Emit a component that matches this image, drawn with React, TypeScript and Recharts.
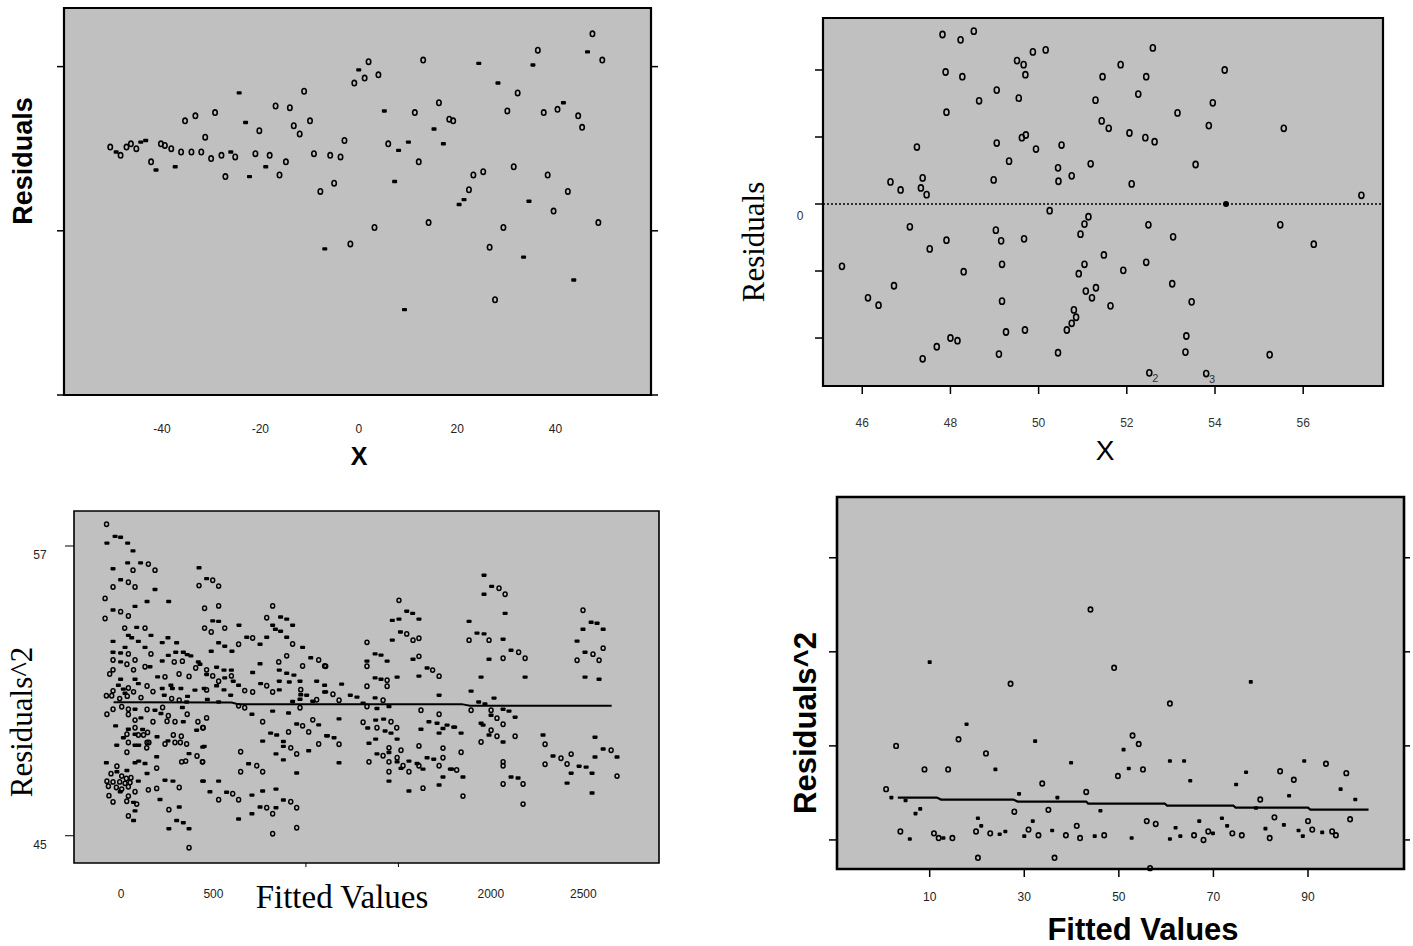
import React from 'react';
import { ScatterChart, Scatter, XAxis, YAxis, ReferenceArea, ReferenceLine } from 'recharts';

type Pt = [number, number];

const PAGE_W = 1413;
const PAGE_H = 946;
const SANS = '"Liberation Sans", Arial, sans-serif';
const SERIF = '"Liberation Serif", "Times New Roman", serif';
const PANEL_BG = '#c0c0c0';

// ---------- top left: Residuals vs X ----------
const tlXTicks = [-40, -20, 0, 20, 40];
const tlYTicks = [-1, 0, 1];
const tlOpen: Pt[] = [
  [-50.5, 0.51], [-48.4, 0.46], [-47.2, 0.51], [-46.3, 0.53], [-45.2, 0.5], [-42.2, 0.42], [-40.2, 0.53], [-39.4, 0.52],
  [-38.1, 0.5], [-36.1, 0.48], [-35.3, 0.67], [-34.0, 0.48], [-33.2, 0.7], [-32.0, 0.48], [-31.2, 0.57], [-30.0, 0.44],
  [-29.2, 0.72], [-27.9, 0.46], [-27.1, 0.33], [-25.1, 0.45], [-21.0, 0.47], [-20.2, 0.61], [-18.1, 0.46], [-16.9, 0.76],
  [-16.1, 0.34], [-14.8, 0.42], [-14.0, 0.75], [-13.2, 0.64], [-12.0, 0.59], [-11.1, 0.85], [-9.9, 0.67], [-9.1, 0.47],
  [-7.8, 0.24], [-5.8, 0.46], [-5.0, 0.29], [-3.7, 0.45], [-2.9, 0.55], [-1.7, -0.08], [-0.9, 0.9], [1.2, 0.93],
  [2.0, 1.03], [3.2, 0.02], [4.0, 0.95], [6.0, 0.53], [11.4, 0.72], [12.2, 0.42], [13.1, 1.04], [14.2, 0.05],
  [16.3, 0.78], [18.4, 0.68], [19.2, 0.67], [22.4, 0.25], [23.3, 0.34], [25.3, 0.36], [26.6, -0.1], [27.7, -0.42],
  [29.4, 0.02], [30.2, 0.73], [31.5, 0.39], [32.3, 0.84], [36.4, 1.1], [37.6, 0.72], [38.4, 0.34], [39.6, 0.12],
  [40.4, 0.74], [42.5, 0.24], [44.6, 0.7], [45.4, 0.63], [47.5, 1.2], [48.7, 0.05], [49.5, 1.04],
];
const tlFilled: Pt[] = [
  [-49.3, 0.48], [-44.3, 0.54], [-43.3, 0.55], [-41.2, 0.37], [-37.3, 0.39], [-26.0, 0.48], [-24.3, 0.84], [-23.0, 0.66],
  [-22.2, 0.33], [-18.9, 0.39], [-6.9, -0.11], [0.0, 0.98], [5.2, 0.73], [7.3, 0.3], [8.1, 0.49], [9.3, -0.48],
  [10.1, 0.54], [15.3, 0.62], [17.2, 0.53], [20.4, 0.16], [21.4, 0.19], [24.4, 1.02], [28.3, 0.9], [33.5, -0.16],
  [34.6, 0.18], [35.4, 1.01], [41.6, 0.78], [43.7, -0.3], [46.5, 1.09],
];

// ---------- top right: Residuals vs X ----------
const trXTicks = [46, 48, 50, 52, 54, 56];
const trYTicks = [-2, -1, 0, 1, 2];
const trOpen: Pt[] = [
  [47.82, 2.53], [48.23, 2.45], [48.53, 2.58], [47.89, 1.97], [48.27, 1.9], [47.91, 1.37], [48.65, 1.54], [49.05, 1.7],
  [49.55, 1.58], [49.51, 2.14], [49.66, 2.08], [49.7, 1.93], [49.87, 2.27], [50.16, 2.3], [52.59, 2.33], [51.86, 2.08],
  [51.45, 1.9], [52.44, 1.9], [54.22, 2.0], [51.29, 1.55], [52.26, 1.64], [53.95, 1.51], [53.15, 1.36], [51.43, 1.24],
  [51.59, 1.13], [53.86, 1.17], [55.56, 1.13], [47.24, 0.85], [49.05, 0.91], [49.62, 0.99], [49.71, 1.03], [49.94, 0.82],
  [50.52, 0.88], [52.06, 1.06], [52.42, 0.99], [52.63, 0.93], [49.33, 0.64], [50.44, 0.54], [51.18, 0.6], [53.56, 0.59],
  [46.64, 0.33], [46.87, 0.21], [47.37, 0.39], [47.33, 0.24], [47.46, 0.14], [48.98, 0.36], [50.45, 0.34], [50.75, 0.42],
  [52.11, 0.3], [57.32, 0.13], [50.25, -0.1], [51.13, -0.19], [51.04, -0.3], [47.08, -0.34], [49.03, -0.39], [47.91, -0.54],
  [49.15, -0.55], [49.67, -0.52], [50.95, -0.45], [52.49, -0.31], [53.05, -0.49], [55.48, -0.31], [56.24, -0.6], [47.53, -0.67],
  [51.48, -0.76], [45.54, -0.93], [48.3, -1.01], [49.17, -0.9], [51.04, -0.9], [50.91, -1.04], [51.92, -0.99], [52.44, -0.87],
  [46.72, -1.22], [53.03, -1.19], [46.13, -1.4], [46.37, -1.51], [49.17, -1.45], [51.07, -1.3], [51.21, -1.4], [51.3, -1.25],
  [51.63, -1.52], [53.47, -1.46], [50.8, -1.58], [50.85, -1.69], [50.75, -1.78], [50.64, -1.88], [49.26, -1.91], [49.69, -1.88],
  [48.0, -2.0], [48.16, -2.04], [47.69, -2.13], [47.37, -2.31], [49.1, -2.24], [50.44, -2.22], [53.35, -1.97], [53.33, -2.21],
  [55.24, -2.25],
];
const trFilled: Pt[] = [[54.25, 0.0]];
const trTaggedX = [52.51, 53.8];
const trTaggedY = [-2.52, -2.53];
const trTags = ['2', '3'];

// ---------- bottom left: Residuals^2 vs Fitted Values ----------
const blXTicks = [0, 500, 1000, 1500, 2000, 2500];
const blYTicks = [45, 57];
const blOpen: Pt[] = [
  [-78, 57.9], [148, 56.25], [65, 56.0], [184, 56.0], [40, 55.5], [-43, 55.3], [76, 55.3], [422, 55.36], [-86, 54.83],
  [-2, 54.28], [40, 54.1], [-86, 54.0], [20, 53.6], [130, 53.6], [40, 52.53], [162, 52.53], [-43, 52.28], [32, 52.1],
  [76, 52.28], [130, 52.0], [288, 52.2], [332, 52.23], [-43, 51.87], [-61, 51.7], [68, 51.87], [238, 51.58], [314, 51.7],
  [368, 51.6], [404, 51.95], [141, 51.2], [40, 51.12], [68, 50.96], [-43, 51.0], [-79, 50.8], [-50, 50.8], [173, 50.97],
  [-7, 50.68], [34, 50.78], [108, 50.72], [274, 50.68], [315, 50.61], [4, 50.34], [40, 50.24], [141, 50.23], [225, 50.31],
  [-76, 50.03], [-43, 50.24], [40, 50.02], [76, 49.79], [173, 49.72], [256, 49.97], [292, 49.72], [358, 50.03], [249, 49.74],
  [416, 49.72], [445, 49.47], [76, 49.47], [144, 49.28], [32, 49.2], [94, 49.17], [122, 49.17], [283, 49.17], [326, 49.12],
  [238, 48.8], [141, 48.86], [40, 48.86], [151, 48.86], [292, 48.86], [321, 48.86], [355, 48.8], [32, 48.46], [139, 48.64],
  [411, 48.3], [328, 48.06], [350, 48.09], [440, 48.06], [-22, 47.88], [193, 47.8], [-54, 47.57], [4, 47.47], [29, 47.37],
  [54, 47.4], [-76, 47.26], [-43, 47.23], [-7, 47.23], [22, 47.17], [49, 47.2], [-68, 47.05], [-25, 47.0], [4, 46.93],
  [76, 46.82], [40, 47.03], [148, 46.9], [193, 46.96], [315, 47.0], [-65, 46.66], [-43, 46.4], [40, 46.64], [31, 46.43],
  [85, 46.31], [259, 46.08], [40, 45.82], [368, 44.5],
  [496, 55.58], [528, 55.34], [452, 54.42], [528, 54.52], [452, 53.6], [488, 53.44], [561, 53.6], [636, 52.93], [712, 53.19],
  [820, 54.52], [788, 54.03], [928, 52.94], [463, 51.87], [496, 51.62], [597, 51.62], [528, 51.4], [463, 51.04], [669, 51.01],
  [712, 50.95], [788, 51.21], [820, 50.95], [853, 52.2], [896, 52.45], [982, 52.03], [1069, 52.28], [1101, 52.03], [972, 51.05],
  [968, 50.3], [1058, 50.63], [636, 50.38], [669, 50.3], [463, 49.88], [442, 49.47], [766, 49.72], [982, 49.55], [1015, 49.3],
  [1037, 49.8], [906, 49.3], [918, 48.64], [950, 48.39], [1069, 48.8], [647, 48.48], [442, 48.06], [734, 47.9], [766, 47.65],
  [647, 47.65], [604, 46.74], [528, 46.49], [636, 46.49], [788, 46.16], [820, 45.91], [918, 46.41], [950, 46.16], [950, 45.33],
  [820, 45.08],
  [1503, 54.75], [1545, 53.36], [1579, 53.1], [1611, 53.18], [1330, 53.01], [1330, 52.02], [1611, 52.43], [1685, 51.86],
  [1720, 51.61], [1439, 51.44], [1439, 51.19], [1330, 51.19], [1107, 52.02], [1146, 50.86], [1179, 50.61], [1417, 50.61],
  [1330, 50.35], [1622, 50.2], [1720, 50.03], [1309, 49.7], [1460, 49.72], [1384, 49.47], [1491, 49.47], [1179, 48.79],
  [1449, 48.64], [1514, 48.54], [1611, 48.72], [1741, 48.63], [1417, 48.31], [1493, 48.23], [1741, 48.23], [1341, 48.06],
  [1449, 48.06], [1525, 47.9], [1557, 47.65], [1611, 47.9], [1720, 47.9], [1449, 47.65], [1633, 46.97],
  [2044, 55.25], [2077, 55.0], [1882, 53.1], [1990, 53.1], [2150, 52.6], [2185, 52.35], [2066, 52.35], [1893, 50.2],
  [2001, 50.2], [2033, 49.87], [2001, 49.37], [2066, 49.62], [2033, 49.12], [2131, 49.12], [1947, 48.88], [1839, 48.46],
  [2293, 48.79], [2293, 47.96], [2066, 48.06], [2066, 47.9], [1815, 47.72], [2066, 47.14], [2174, 47.14], [1849, 46.64],
  [2174, 46.31],
  [2498, 54.34], [2552, 52.52], [2607, 52.77], [2466, 52.27], [2585, 52.27], [2650, 48.54], [2379, 48.21], [2434, 48.38],
  [2412, 47.97], [2682, 47.47],
];
const blFilled: Pt[] = [
  [-32, 57.4], [-2, 57.36], [-76, 57.12], [36, 57.12], [65, 56.8], [36, 56.3], [106, 56.3], [-43, 56.06], [-2, 55.6],
  [184, 55.2], [422, 56.1], [141, 54.7], [258, 54.7], [76, 54.5], [-43, 54.35], [85, 53.63], [40, 53.3], [58, 53.2],
  [94, 53.05], [-43, 53.05], [162, 53.3], [223, 53.0], [254, 53.2], [301, 52.99], [130, 52.8], [22, 52.8], [-43, 52.6],
  [-2, 52.57], [-2, 52.2], [157, 52.0], [223, 52.24], [256, 52.47], [296, 52.6], [337, 52.6], [358, 52.5], [378, 52.45],
  [418, 52.2], [-2, 51.48], [76, 51.48], [198, 51.58], [427, 52.1], [270, 51.23], [223, 51.1], [278, 51.1], [324, 51.1],
  [94, 51.3], [-14, 51.23], [13, 51.07], [22, 50.9], [234, 50.82], [360, 50.77], [400, 51.03], [355, 50.54], [450, 51.1],
  [76, 50.24], [184, 50.2], [332, 50.31], [108, 49.88], [216, 50.06], [337, 49.72], [409, 49.37], [-29, 49.55], [40, 49.41],
  [117, 49.4], [13, 49.06], [76, 49.2], [195, 49.1], [254, 48.93], [76, 48.75], [-23, 48.75], [96, 48.75], [193, 48.27],
  [368, 48.4], [450, 48.7], [-79, 48.02], [76, 48.02], [96, 48.09], [130, 47.99], [32, 47.7], [141, 47.58], [-22, 47.65],
  [94, 47.26], [238, 47.3], [281, 47.26], [445, 47.26], [-4, 46.82], [68, 46.38], [211, 46.5], [315, 46.19], [76, 46.03],
  [68, 45.63], [301, 45.63], [337, 45.54], [259, 45.29], [368, 45.29],
  [463, 55.65], [496, 53.9], [528, 53.88], [638, 53.72], [528, 52.99], [561, 52.85], [600, 52.64], [488, 52.64], [680, 53.22],
  [752, 52.93], [788, 53.22], [863, 54.06], [896, 53.97], [928, 53.72], [820, 53.72], [835, 53.55], [863, 53.47], [896, 53.22],
  [982, 52.8], [517, 51.98], [557, 51.86], [597, 51.86], [463, 51.68], [561, 51.54], [517, 51.21], [607, 51.4], [636, 51.23],
  [557, 51.04], [593, 50.82], [712, 51.76], [752, 52.12], [755, 51.3], [856, 51.86], [856, 51.4], [856, 51.04], [896, 51.73],
  [910, 51.37], [935, 51.65], [968, 51.4], [1026, 52.37], [1058, 51.4], [1101, 51.23], [1101, 50.95], [972, 50.84],
  [1004, 50.82], [928, 50.56], [968, 50.65], [1037, 50.57], [467, 50.64], [528, 50.54], [708, 50.03], [820, 50.16],
  [906, 50.08], [950, 49.63], [1069, 49.59], [809, 49.25], [842, 49.17], [766, 48.92], [878, 48.9], [878, 48.7],
  [1015, 48.52], [1112, 49.14], [442, 48.67], [838, 48.39], [878, 48.14], [690, 47.98], [950, 47.6], [442, 47.26],
  [528, 47.26], [481, 46.82], [571, 46.8], [708, 46.68], [766, 46.85], [838, 46.93], [752, 46.19], [838, 46.16],
  [878, 46.48], [708, 45.91], [636, 45.69],
  [1545, 54.3], [1577, 54.21], [1611, 53.97], [1503, 53.97], [1467, 53.92], [1511, 53.44], [1467, 53.1], [1374, 52.53],
  [1406, 52.48], [1439, 52.23], [1330, 52.23], [1579, 52.31], [1655, 51.95], [1611, 51.61], [1493, 51.57], [1374, 51.54],
  [1406, 51.48], [1193, 51.28], [1107, 50.96], [1240, 50.82], [1276, 50.74], [1374, 50.71], [1309, 50.49], [1384, 50.27],
  [1449, 50.35], [1720, 50.82], [1179, 49.84], [1377, 49.79], [1420, 49.83], [1334, 49.46], [1428, 49.34], [1460, 49.25],
  [1493, 49.0], [1377, 49.0], [1341, 48.83], [1622, 49.41], [1665, 49.72], [1709, 49.66], [1741, 49.44], [1763, 49.58],
  [1720, 49.25], [1799, 49.5], [1116, 49.14], [1152, 49.06], [1384, 48.39], [1449, 48.45], [1655, 48.23], [1691, 48.17],
  [1179, 48.02], [1493, 48.06], [1557, 48.09], [1601, 47.99], [1514, 47.79], [1633, 47.76], [1781, 47.76], [1741, 47.43],
  [1449, 47.26], [1720, 47.1], [1557, 46.85],
  [1963, 55.79], [2004, 55.33], [1963, 55.0], [2077, 54.21], [1882, 53.88], [1925, 53.39], [1963, 53.36], [2066, 53.14],
  [2109, 52.68], [1990, 52.31], [1947, 51.57], [2185, 51.57], [1893, 50.99], [2017, 50.7], [1934, 50.54], [1968, 50.46],
  [2066, 50.24], [2098, 50.16], [2001, 49.99], [2131, 49.91], [1804, 49.5], [1839, 49.25], [1947, 49.66], [1958, 49.58],
  [1990, 49.17], [2066, 48.88], [2282, 49.17], [2336, 48.3], [1788, 47.76], [1849, 47.43], [2109, 47.43], [2147, 47.39],
  [2542, 53.84], [2574, 53.8], [2498, 53.55], [2607, 53.55], [2466, 53.06], [2509, 52.6], [2509, 51.57], [2585, 51.48],
  [2563, 49.08], [2607, 48.59], [2682, 48.26], [2563, 48.26], [2477, 47.88], [2515, 47.84], [2547, 47.59], [2434, 47.59],
  [2412, 47.18], [2547, 46.77],
];
const blSmoothX = [-40, 598, 633, 1842, 1887, 2653];
const blSmoothY = [50.53, 50.52, 50.45, 50.45, 50.38, 50.38];

// ---------- bottom right: Residuals^2 vs Fitted Values ----------
const brXTicks = [10, 30, 50, 70, 90];
const brYTicks = [0, 1, 2, 3];
const brOpen: Pt[] = [
  [0.78, 0.54], [2.9, 1.0], [3.8, 0.09], [8.9, 0.75], [10.9, 0.07], [11.9, 0.02], [13.9, 0.75], [14.8, 0.02], [16.1, 1.07],
  [19.8, 0.09], [20.2, -0.19], [21.9, 0.92], [22.8, 0.07], [27.1, 1.66], [27.9, 0.3], [30.9, 0.11], [33.0, 0.05], [33.8, 0.6],
  [35.1, 0.32], [36.4, -0.19], [38.8, 0.05], [41.1, 0.15], [41.8, 0.02], [43.1, 0.51], [44.0, 2.45], [46.9, 0.05], [49.0, 1.83],
  [49.8, 0.68], [52.9, 1.11], [54.2, 1.02], [55.1, 0.75], [55.9, 0.2], [56.6, -0.3], [57.8, 0.17], [60.8, 1.45], [65.9, 0.05],
  [67.9, 0.0], [68.9, 0.09], [74.0, 0.07], [76.0, 0.05], [79.9, 0.43], [81.9, 0.02], [82.9, 0.24], [84.1, 0.73], [87.0, 0.64],
  [90.0, 0.2], [90.9, 0.11], [93.8, 0.81], [95.1, 0.09], [95.9, 0.05], [98.1, 0.71], [98.9, 0.22],
];
const brFilled: Pt[] = [
  [1.9, 0.45], [4.9, 0.42], [5.8, 0.01], [7.0, 0.28], [8.0, 0.33], [10.0, 1.89], [12.9, 0.02], [17.8, 1.23], [20.2, 0.23],
  [20.9, 0.15], [23.9, 0.75], [24.8, 0.06], [26.0, 0.09], [28.9, 0.49], [30.0, 0.04], [31.8, 0.2], [32.3, 1.05], [35.9, 0.1],
  [37.0, 0.45], [39.9, 0.82], [44.9, 0.04], [46.1, 0.31], [51.0, 0.96], [52.1, 0.76], [52.7, 0.02], [60.8, 0.84], [60.8, 0.01],
  [62.0, 0.13], [63.0, 0.04], [63.8, 0.84], [65.1, 0.63], [67.0, 0.2], [69.9, 0.07], [71.8, 0.23], [72.9, 0.15], [74.8, 0.59],
  [76.9, 0.72], [77.9, 1.68], [79.0, 0.34], [81.0, 0.12], [84.9, 0.16], [86.0, 0.47], [88.0, 0.1], [88.9, 0.04], [89.2, 0.84],
  [93.0, 0.08], [96.9, 0.54], [100.0, 0.43],
];
const brSmoothX = [3.26, 11.5, 12.4, 27.7, 28.6, 43.1, 43.5, 59.7, 60.2, 74.2, 74.7, 90.0, 90.5, 102.8];
const brSmoothY = [0.45, 0.45, 0.429, 0.429, 0.408, 0.408, 0.387, 0.387, 0.365, 0.365, 0.344, 0.344, 0.323, 0.323];

// ---------- helpers ----------
type Box = { x: number; y: number; w: number; h: number };

const toPts = (a: Pt[]) => a.map(([x, y]) => ({ x, y }));
const zipPts = (xs: number[], ys: number[]) => xs.map((x, i) => ({ x, y: ys[i] }));

// every axis is given 1px of room (a 0-sized axis is not drawn), so the margins leave it out
const marginFor = (b: Box, topAxis = false) => ({
  top: b.y - (topAxis ? 1 : 0),
  left: b.x - 1,
  right: PAGE_W - b.x - b.w,
  bottom: PAGE_H - b.y - b.h - 1,
});

const openDot = (rx: number, ry: number, sw: number) => (p: any) => (
  <ellipse cx={p.cx} cy={p.cy} rx={rx} ry={ry} fill="none" stroke="#000" strokeWidth={sw} />
);
const dash = (w: number, h: number) => (p: any) => (
  <rect x={p.cx - w / 2} y={p.cy - h / 2} width={w} height={h} rx={0.8} fill="#000" />
);
const noDot = () => <g />;

const Layer = ({ children }: { children: React.ReactNode }) => (
  <div style={{ position: 'absolute', left: 0, top: 0 }}>{children}</div>
);

const tickText = (dy: number, size = 12, color = '#222') => (p: any) => (
  <text x={p.x} y={p.y + dy} textAnchor="middle" dominantBaseline="central" fontFamily={SANS} fontSize={size} fill={color}>
    {p.payload.value}
  </text>
);

// y tick marks on both sides of the frame (no labels)
const sideTicks = (b: Box, inLen: number, outLen: number, sw: number) => (p: any) => (
  <g>
    <line x1={b.x - inLen} x2={b.x} y1={p.y} y2={p.y} stroke="#000" strokeWidth={sw} />
    <line x1={b.x + b.w} x2={b.x + b.w + outLen} y1={p.y} y2={p.y} stroke="#000" strokeWidth={sw} />
  </g>
);

// ---------- panels ----------
const TL_BOX: Box = { x: 64, y: 8, w: 587, h: 387 };
const TL_XDOM: [number, number] = [-59.9, 59.4];
const TL_YDOM: [number, number] = [-1.0, 1.357];

const TopLeft = () => (
  <Layer>
    <ScatterChart width={PAGE_W} height={PAGE_H} margin={marginFor(TL_BOX)}>
      <XAxis type="number" dataKey="x" domain={TL_XDOM} ticks={tlXTicks} interval={0} height={1}
        axisLine={false} tickLine={false} tickSize={0} tickMargin={0} tick={tickText(34)} />
      <YAxis type="number" dataKey="y" domain={TL_YDOM} ticks={tlYTicks} interval={0} width={1}
        axisLine={false} tickLine={false} tickSize={0} tickMargin={0} tick={sideTicks(TL_BOX, 7, 7, 1.5)} />
      <ReferenceArea x1={TL_XDOM[0]} x2={TL_XDOM[1]} y1={TL_YDOM[0]} y2={TL_YDOM[1]} ifOverflow="visible"
        fill={PANEL_BG} fillOpacity={1} stroke="#000" strokeWidth={2.2} />
      <Scatter data={toPts(tlOpen)} shape={openDot(2.2, 2.7, 1.6)} isAnimationActive={false} />
      <Scatter data={toPts(tlFilled)} shape={dash(5, 3.4)} isAnimationActive={false} />
    </ScatterChart>
  </Layer>
);

const TR_BOX: Box = { x: 823, y: 18, w: 560, h: 368 };
const TR_XDOM: [number, number] = [45.11, 57.81];
const TR_YDOM: [number, number] = [-2.716, 2.776];

const trYTick = (p: any) =>
  p.payload.value === 0 ? (
    <text x={p.x - 15} y={p.y + 12} textAnchor="middle" dominantBaseline="central" fontFamily={SANS} fontSize={12} fill="#333">
      0
    </text>
  ) : (
    <g />
  );

const TopRight = () => (
  <Layer>
    <ScatterChart width={PAGE_W} height={PAGE_H} margin={marginFor(TR_BOX)}>
      <XAxis type="number" dataKey="x" domain={TR_XDOM} ticks={trXTicks} interval={0} height={1}
        axisLine={false} tickSize={8} tickMargin={0} tickLine={{ stroke: '#000', strokeWidth: 1.5 }} tick={tickText(29, 12, '#333')} />
      <YAxis type="number" dataKey="y" domain={TR_YDOM} ticks={trYTicks} interval={0} width={1}
        axisLine={false} tickSize={8} tickMargin={0} tickLine={{ stroke: '#000', strokeWidth: 1.5 }} tick={trYTick} />
      <ReferenceArea x1={TR_XDOM[0]} x2={TR_XDOM[1]} y1={TR_YDOM[0]} y2={TR_YDOM[1]} ifOverflow="visible"
        fill={PANEL_BG} fillOpacity={1} stroke="#000" strokeWidth={2.2} />
      <ReferenceLine y={0} stroke="#000" strokeWidth={1.5} strokeDasharray="2 2" />
      <Scatter data={toPts(trOpen)} shape={openDot(2.5, 3.1, 1.6)} isAnimationActive={false} />
      <Scatter data={toPts(trFilled)} shape={(p: any) => <ellipse cx={p.cx} cy={p.cy} rx={3} ry={3} fill="#000" />} isAnimationActive={false} />
      <Scatter
        data={trTaggedX.map((x, i) => ({ x, y: trTaggedY[i], tag: trTags[i] }))}
        shape={(p: any) => (
          <g>
            <ellipse cx={p.cx} cy={p.cy} rx={2.5} ry={3.1} fill="none" stroke="#000" strokeWidth={1.6} />
            <text x={p.cx + 6} y={p.cy + 5} textAnchor="middle" dominantBaseline="central" fontFamily={SANS} fontSize={11} fill="#333">
              {p.payload?.tag}
            </text>
          </g>
        )}
        isAnimationActive={false}
      />
    </ScatterChart>
  </Layer>
);

const BL_BOX: Box = { x: 74, y: 511, w: 585, h: 352 };
const BL_XDOM: [number, number] = [-254, 2909];
const BL_YDOM: [number, number] = [43.87, 58.45];

const blXTick = (p: any) => {
  const v = p.payload.value;
  if (v === 1000 || v === 1500) {
    return <line x1={p.x} x2={p.x} y1={p.y} y2={p.y + 4} stroke="#000" strokeWidth={1} />;
  }
  return (
    <text x={p.x} y={p.y + 31} textAnchor="middle" dominantBaseline="central" fontFamily={SANS} fontSize={12} fill="#222">
      {v}
    </text>
  );
};
const blYTick = (p: any) => (
  <text x={p.x - 25} y={p.y + 9} textAnchor="middle" dominantBaseline="central" fontFamily={SANS} fontSize={12} fill="#222">
    {p.payload.value}
  </text>
);

const BottomLeft = () => (
  <Layer>
    <ScatterChart width={PAGE_W} height={PAGE_H} margin={marginFor(BL_BOX, true)}>
      <XAxis type="number" dataKey="x" domain={BL_XDOM} ticks={blXTicks} interval={0} height={1}
        axisLine={false} tickLine={false} tickSize={0} tickMargin={0} tick={blXTick} />
      <XAxis xAxisId="t" orientation="top" type="number" domain={BL_XDOM} allowDataOverflow ticks={blXTicks} interval={0}
        height={1} axisLine={false} tickSize={4} tickMargin={0} tick={false} tickLine={{ stroke: '#000', strokeWidth: 1 }} />
      <YAxis type="number" dataKey="y" domain={BL_YDOM} ticks={blYTicks} interval={0} width={1}
        axisLine={false} tickSize={9} tickMargin={0} tickLine={{ stroke: '#000', strokeWidth: 1 }} tick={blYTick} />
      <ReferenceArea x1={BL_XDOM[0]} x2={BL_XDOM[1]} y1={BL_YDOM[0]} y2={BL_YDOM[1]} ifOverflow="visible"
        fill={PANEL_BG} fillOpacity={1} stroke="#000" strokeWidth={1.6} />
      <Scatter data={toPts(blOpen)} shape={openDot(2.0, 2.2, 1.5)} isAnimationActive={false} />
      <Scatter data={toPts(blFilled)} shape={dash(5, 3.4)} isAnimationActive={false} />
      <Scatter data={zipPts(blSmoothX, blSmoothY)} shape={noDot} line={{ stroke: '#000', strokeWidth: 2 }} isAnimationActive={false} />
    </ScatterChart>
  </Layer>
);

const BR_BOX: Box = { x: 837, y: 497, w: 567, h: 372 };
const BR_XDOM: [number, number] = [-9.6, 110.3];
const BR_YDOM: [number, number] = [-0.309, 3.646];

const BottomRight = () => (
  <Layer>
    <ScatterChart width={PAGE_W} height={PAGE_H} margin={marginFor(BR_BOX)}>
      <XAxis type="number" dataKey="x" domain={BR_XDOM} ticks={brXTicks} interval={0} height={1}
        axisLine={false} tickSize={8} tickMargin={0} tickLine={{ stroke: '#000', strokeWidth: 1.5 }} tick={tickText(20)} />
      <YAxis type="number" dataKey="y" domain={BR_YDOM} ticks={brYTicks} interval={0} width={1}
        axisLine={false} tickLine={false} tickSize={0} tickMargin={0} tick={sideTicks(BR_BOX, 8, 6, 1.5)} />
      <ReferenceArea x1={BR_XDOM[0]} x2={BR_XDOM[1]} y1={BR_YDOM[0]} y2={BR_YDOM[1]} ifOverflow="visible"
        fill={PANEL_BG} fillOpacity={1} stroke="#000" strokeWidth={2.6} />
      <Scatter data={toPts(brOpen)} shape={openDot(2.2, 2.4, 1.6)} isAnimationActive={false} />
      <Scatter data={toPts(brFilled)} shape={dash(4, 3.6)} isAnimationActive={false} />
      <Scatter data={zipPts(brSmoothX, brSmoothY)} shape={noDot} line={{ stroke: '#000', strokeWidth: 2.2 }} isAnimationActive={false} />
    </ScatterChart>
  </Layer>
);

// axis titles
const Titles = () => (
  <svg width={PAGE_W} height={PAGE_H} style={{ position: 'absolute', left: 0, top: 0, pointerEvents: 'none' }}>
    <text transform="translate(23,161) rotate(-90)" textAnchor="middle" dominantBaseline="central"
      fontFamily={SANS} fontWeight="bold" fontSize={27}>Residuals</text>
    <text x={359} y={465} textAnchor="middle" fontFamily={SANS} fontWeight="bold" fontSize={25}>X</text>

    <text transform="translate(753,242) rotate(-90)" textAnchor="middle" dominantBaseline="central"
      fontFamily={SERIF} fontSize={31}>Residuals</text>
    <text x={1105} y={460} textAnchor="middle" fontFamily={SANS} fontSize={28}>X</text>

    <text transform="translate(21,722) rotate(-90)" textAnchor="middle" dominantBaseline="central"
      fontFamily={SERIF} fontSize={31}>Residuals^2</text>
    <text x={342} y={908} textAnchor="middle" fontFamily={SERIF} fontSize={33}>Fitted Values</text>

    <text transform="translate(805,723) rotate(-90)" textAnchor="middle" dominantBaseline="central"
      fontFamily={SANS} fontWeight="bold" fontSize={31}>Residuals^2</text>
    <text x={1143} y={940} textAnchor="middle" fontFamily={SANS} fontWeight="bold" fontSize={31}>Fitted Values</text>
  </svg>
);

export default function App() {
  return (
    <div style={{ position: 'absolute', left: 0, top: 0, width: PAGE_W, height: PAGE_H, background: '#fff', overflow: 'hidden' }}>
      <TopLeft />
      <TopRight />
      <BottomLeft />
      <BottomRight />
      <Titles />
    </div>
  );
}
